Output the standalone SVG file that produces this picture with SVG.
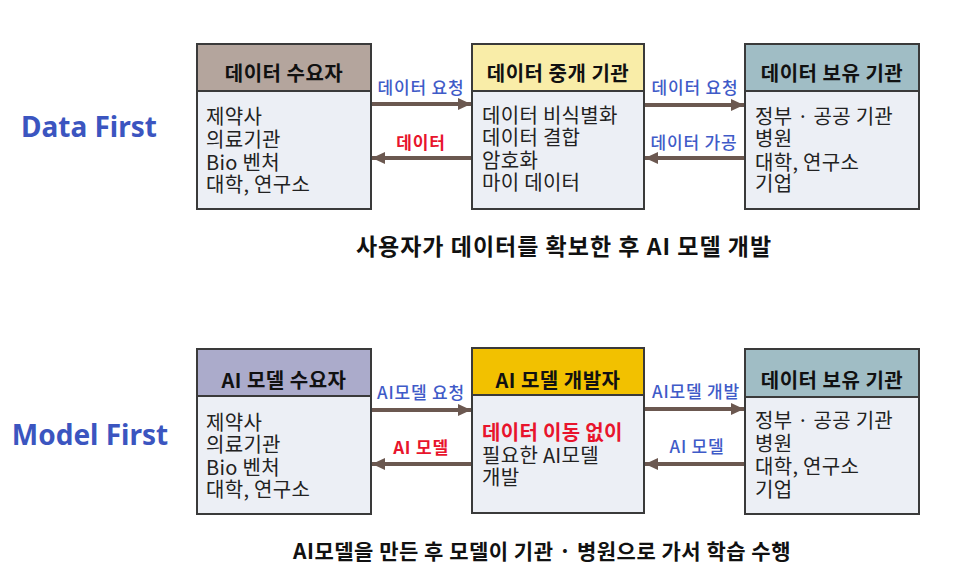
<svg xmlns="http://www.w3.org/2000/svg" width="960" height="584" viewBox="0 0 960 584">
<defs>
<style>
.box{fill:#ECEFF5;stroke:#3A3A3A;stroke-width:2}
.ht{font-family:"Noto Sans CJK KR","Noto Sans",sans-serif;font-size:20px;font-weight:bold;fill:#111;text-anchor:middle;letter-spacing:0.5px}
.bt{font-family:"Noto Sans CJK KR","Noto Sans",sans-serif;font-size:20px;fill:#222;letter-spacing:0.3px}
.rb{fill:#E8142C;font-weight:bold}
.lb{font-family:"Noto Sans CJK KR","Noto Sans",sans-serif;font-size:17px;font-weight:500;fill:#3F5BC8;text-anchor:middle;letter-spacing:0.8px}
.lr{font-family:"Noto Sans CJK KR","Noto Sans",sans-serif;font-size:17px;font-weight:bold;fill:#E8142C;text-anchor:middle;letter-spacing:0.8px}
.conn{stroke:#6B5850;stroke-width:4;fill:none}
.title{font-family:"Noto Sans","Noto Sans CJK KR",sans-serif;font-size:28px;font-weight:bold;fill:#3B55C0;text-anchor:middle}
.cap{font-family:"Noto Sans CJK KR","Noto Sans",sans-serif;font-weight:bold;fill:#111;text-anchor:middle}
</style>
<marker id="ah" markerUnits="userSpaceOnUse" markerWidth="14" markerHeight="14" viewBox="0 0 14 14" refX="13" refY="7" orient="auto">
<path d="M0,1 L13,7 L0,13 Z" fill="#6B5850"/>
</marker>
</defs>
<rect width="960" height="584" fill="#FFFFFF"/>

<text class="title" x="89" y="137">Data First</text>
<text class="title" x="90" y="445">Model First</text>

<g id="n-demand">
<rect class="box" x="197" y="44" width="174" height="165"/>
<rect x="197" y="44" width="174" height="47" fill="#B4A59D" stroke="#3A3A3A" stroke-width="2"/>
<text class="ht" x="284" y="81">데이터 수요자</text>
<text class="bt" x="206" y="124">제약사</text>
<text class="bt" x="206" y="147">의료기관</text>
<text class="bt" x="206" y="170">Bio 벤처</text>
<text class="bt" x="206" y="192">대학, 연구소</text>
</g>

<g id="n-broker">
<rect class="box" x="472" y="44" width="172" height="165"/>
<rect x="472" y="44" width="172" height="47" fill="#F9EDA8" stroke="#3A3A3A" stroke-width="2"/>
<text class="ht" x="558" y="81">데이터 중개 기관</text>
<text class="bt" x="482" y="123">데이터 비식별화</text>
<text class="bt" x="482" y="145">데이터 결합</text>
<text class="bt" x="482" y="168">암호화</text>
<text class="bt" x="482" y="190">마이 데이터</text>
</g>

<g id="n-holder1">
<rect class="box" x="745" y="44" width="174" height="165"/>
<rect x="745" y="44" width="174" height="47" fill="#A0BDC5" stroke="#3A3A3A" stroke-width="2"/>
<text class="ht" x="832" y="81">데이터 보유 기관</text>
<text class="bt" x="755" y="124">정부 · 공공 기관</text>
<text class="bt" x="755" y="146">병원</text>
<text class="bt" x="755" y="170">대학, 연구소</text>
<text class="bt" x="755" y="191">기업</text>
</g>

<g id="n-aidemand">
<rect class="box" x="197" y="349" width="174" height="165"/>
<rect x="197" y="349" width="174" height="47" fill="#ABABCB" stroke="#3A3A3A" stroke-width="2"/>
<text class="ht" x="284" y="388">AI 모델 수요자</text>
<text class="bt" x="206" y="430">제약사</text>
<text class="bt" x="206" y="452">의료기관</text>
<text class="bt" x="206" y="475">Bio 벤처</text>
<text class="bt" x="206" y="497">대학, 연구소</text>
</g>

<g id="n-developer">
<rect class="box" x="472" y="348" width="172" height="165"/>
<rect x="472" y="348" width="172" height="47" fill="#F2C100" stroke="#3A3A3A" stroke-width="2"/>
<text class="ht" x="558" y="388">AI 모델 개발자</text>
<text class="bt rb" x="482" y="440">데이터 이동 없이</text>
<text class="bt" x="482" y="463">필요한 AI모델</text>
<text class="bt" x="482" y="485">개발</text>
</g>

<g id="n-holder2">
<rect class="box" x="745" y="349" width="174" height="165"/>
<rect x="745" y="349" width="174" height="48" fill="#A0BDC5" stroke="#3A3A3A" stroke-width="2"/>
<text class="ht" x="832" y="388">데이터 보유 기관</text>
<text class="bt" x="755" y="428">정부 · 공공 기관</text>
<text class="bt" x="755" y="451">병원</text>
<text class="bt" x="755" y="474">대학, 연구소</text>
<text class="bt" x="755" y="497">기업</text>
</g>

<g id="connectors">
<line class="conn" x1="372" y1="104" x2="471" y2="104" marker-end="url(#ah)"/>
<line class="conn" x1="471" y1="158" x2="372" y2="158" marker-end="url(#ah)"/>
<line class="conn" x1="645" y1="105" x2="744" y2="105" marker-end="url(#ah)"/>
<line class="conn" x1="744" y1="158" x2="645" y2="158" marker-end="url(#ah)"/>
<line class="conn" x1="372" y1="410" x2="471" y2="410" marker-end="url(#ah)"/>
<line class="conn" x1="471" y1="464" x2="372" y2="464" marker-end="url(#ah)"/>
<line class="conn" x1="645" y1="409" x2="744" y2="409" marker-end="url(#ah)"/>
<line class="conn" x1="744" y1="464" x2="645" y2="464" marker-end="url(#ah)"/>
<text class="lb" x="421" y="94">데이터 요청</text>
<text class="lr" x="421" y="149">데이터</text>
<text class="lb" x="695" y="94">데이터 요청</text>
<text class="lb" x="694" y="149">데이터 가공</text>
<text class="lb" x="421" y="399">AI모델 요청</text>
<text class="lr" x="421" y="454">AI 모델</text>
<text class="lb" x="696" y="398">AI모델 개발</text>
<text class="lb" x="697" y="453">AI 모델</text>
</g>

<text class="cap" x="564" y="255" font-size="23" letter-spacing="1">사용자가 데이터를 확보한 후 AI 모델 개발</text>
<text class="cap" x="542" y="559" font-size="21" letter-spacing="0.5">AI모델을 만든 후 모델이 기관 · 병원으로 가서 학습 수행</text>
</svg>
